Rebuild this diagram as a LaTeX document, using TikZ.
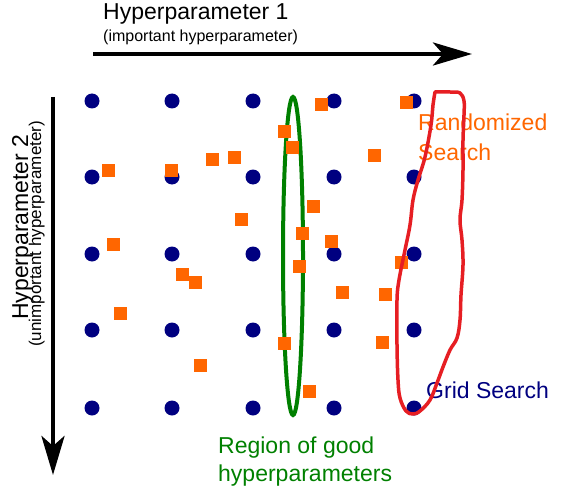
\documentclass[tikz,border=0pt]{standalone}
\usepackage{fontspec}
\setmainfont{Liberation Sans}
\usetikzlibrary{positioning,
        shapes.geometric,
        arrows.meta}
\definecolor{gridblue}{RGB}{0,0,128}
\definecolor{randorange}{RGB}{255,102,0}
\definecolor{goodgreen}{RGB}{0,128,0}
\definecolor{searchred}{RGB}{230,30,35}

\begin{document}
\begin{tikzpicture}[x=1pt,y=-1pt,
        gridpt/.style={circle,fill=gridblue,inner sep=0pt,minimum size=15pt},
        randpt/.style={rectangle,fill=randorange,inner sep=0pt,minimum size=13pt},
        axisarrow/.style={line width=4.5pt,-{Stealth[length=39pt,width=23pt,inset=10pt]}},
        bigtext/.style={inner sep=0pt,anchor=base west,font=\fontsize{23}{28}\selectfont},
        smalltext/.style={inner sep=0pt,anchor=base west,font=\fontsize{16}{20}\selectfont}]
            \useasboundingbox (0,0) rectangle (583,500);

            \node [bigtext] (hp1) at (103,20) {Hyperparameter 1};
            \node [smalltext] (hp1sub) at (103,42) {(important hyperparameter)};
            \node [bigtext,rotate=90] (hp2) at (28,320) {Hyperparameter 2};
            \node [smalltext,rotate=90,font=\fontsize{17}{20}\selectfont] (hp2sub) at (41,347) {(unimportant hyperparameter)};

            \coordinate (h1start) at (93,54);
            \coordinate (h1end) at (472,54);
            \coordinate (h2start) at (53,97);
            \coordinate (h2end) at (53,475);
            \draw [axisarrow] (h1start) -- (h1end);
            \draw [axisarrow] (h2start) -- (h2end);

            \foreach \i/\x in {1/92,2/172,3/253,4/334,5/414}
                \foreach \j/\y in {1/101,2/177,3/254,4/330,5/408}
                    \node [gridpt] (g-\i-\j) at (\x,\y) {};

            \node [draw=goodgreen,line width=4pt,ellipse,minimum width=20pt,minimum height=318pt,inner sep=0pt] (good) at (293,256) {};

            \foreach \x/\y [count=\k] in {108/170,171/170,212/159,234/157,284/131,292/147,241/219,
                    113/244,182/274,195/282,321/105,406/103,374/155,313/206,302/233,331/241,
                    299/266,401/262,342/292,385/294,120/313,200/365,284/343,309/391,382/342}
                \node [randpt] (r\k) at (\x,\y) {};

            \node [bigtext,text=randorange] (rand1) at (418,130) {Randomized};
            \node [bigtext,text=randorange] (rand2) at (418,160) {Search};
            \node [bigtext,text=gridblue] (gridlabel) at (426,398) {Grid Search};
            \node [bigtext,text=goodgreen] (region1) at (218,453) {Region of good};
            \node [bigtext,text=goodgreen] (region2) at (218,481) {hyperparameters};

            \draw [searchred,line width=3.5pt,line join=round] plot [smooth,tension=0.6] coordinates {
                (435,92) (450,92) (460,93) (464,101) (464,115) (463,140) (463,170) (462,200)
                (460,220) (462,240) (463,265) (461,295) (460,320) (457,338) (450,350) (443,367)
                (437,383) (430,400) (420,411) (413,414) (406,411) (400,398) (398,380) (397,345)
                (397,300) (399,280) (405,250) (410,225) (413,200) (418,180) (425,157) (431,125)
                (433,105) (435,92)} -- cycle;
        \end{tikzpicture}
\end{document}
